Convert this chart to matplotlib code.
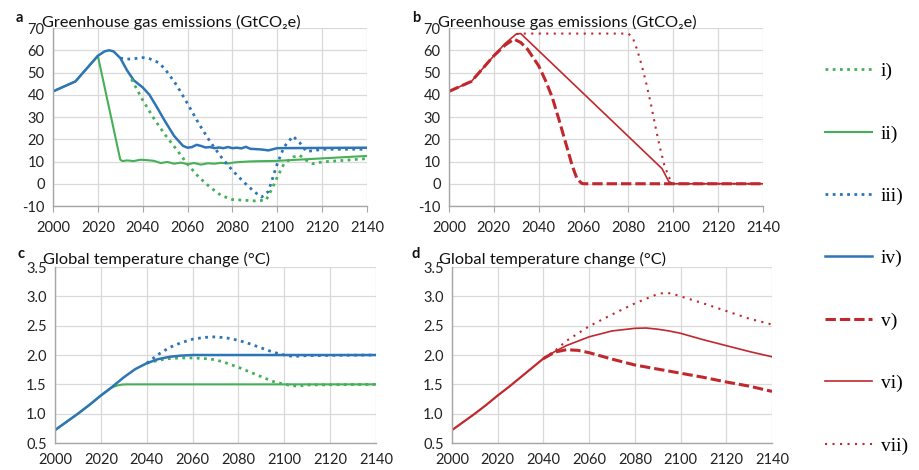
import matplotlib.pyplot as plt
from matplotlib.ticker import FormatStrFormatter

plt.rcParams["font.family"] = ["Lato", "DejaVu Sans"]

GREEN = "#45B058"
BLUE = "#2E75B6"
RED = "#C0282D"

# ---- panel a: emissions, green / blue scenarios
a_i_x = [2035, 2040, 2045, 2050, 2055, 2060, 2065, 2070, 2075, 2080, 2085, 2090,
         2095, 2098, 2100, 2103, 2107, 2110, 2113, 2116, 2120, 2140]
a_i_y = [47, 37.6, 29.3, 22, 15.5, 8.8, 3, -1.5, -5.3, -7.1, -7.4, -7.7,
         -7.4, -1.5, 3, 9, 12, 12.8, 10.5, 9, 9.8, 11.3]
a_ii_x = [2000, 2010, 2020, 2030, 2031, 2033, 2036, 2039, 2042, 2045, 2048, 2051,
          2054, 2057, 2060, 2063, 2066, 2069, 2072, 2075, 2078, 2081, 2084, 2087,
          2090, 2100, 2140]
a_ii_y = [41.5, 46, 57.5, 10.8, 10.2, 10.5, 10.2, 10.8, 10.6, 10.3, 9.3, 9.8,
          9.0, 9.5, 8.8, 9.3, 8.6, 9.2, 9.0, 9.4, 9.1, 9.6, 9.8, 10.0,
          10.1, 10.3, 12.5]
a_iii_x = [2030, 2033, 2036, 2040, 2043, 2047, 2050, 2055, 2060, 2065, 2070, 2075,
           2080, 2085, 2090, 2093, 2096, 2100, 2103, 2107, 2110, 2113, 2117, 2120, 2140]
a_iii_y = [56.5, 56, 56.2, 56.7, 56.2, 54.5, 51.5, 44.5, 36, 27, 19, 12,
           6, 0.8, -3.8, -6, -3.5, 9, 16.5, 21.4, 18.5, 14.5, 15, 15.5, 15.5]
a_iv_x = [2000, 2010, 2020, 2023, 2025, 2027, 2030, 2033, 2036, 2040, 2043, 2046,
          2050, 2054, 2058, 2060, 2062, 2064, 2066, 2068, 2070, 2072, 2074, 2076,
          2078, 2080, 2082, 2084, 2086, 2088, 2090, 2093, 2096, 2100, 2140]
a_iv_y = [41.5, 46, 57.5, 59.5, 60, 59.5, 56.5, 51, 46.5, 43.3, 40, 35,
          28, 21.5, 17, 16.2, 16.5, 17.5, 17.0, 16.3, 16.5, 16.0, 16.3, 16.0,
          16.5, 16.0, 16.2, 15.9, 16.6, 15.7, 15.6, 15.4, 15.0, 16.0, 16.2]

# ---- panel b: emissions, red scenarios
b_v_x = [2000, 2010, 2020, 2025, 2029, 2032, 2035, 2040, 2043, 2046, 2049, 2052,
         2055, 2057, 2059, 2060, 2140]
b_v_y = [41.5, 46, 57.5, 62.3, 65, 63.5, 60.5, 53, 46.5, 39, 29, 18.5,
         8, 2.5, 0.3, 0, 0]
b_vi_x = [2000, 2010, 2020, 2025, 2030, 2032, 2095, 2098, 2100, 2140]
b_vi_y = [41.5, 46, 57.5, 63, 67.3, 67.5, 6.8, 1.0, 0, 0]
b_vii_x = [2030, 2032, 2080, 2082, 2084, 2086, 2088, 2090, 2092, 2094, 2096, 2098,
           2100, 2140]
b_vii_y = [67.3, 67.5, 67.5, 65.5, 60, 53, 45, 36, 26, 16.5, 8.5, 3, 0, 0]

# ---- panel c: temperature, green / blue scenarios
c_i_x = [2040, 2045, 2050, 2055, 2060, 2065, 2070, 2075, 2080, 2085, 2090, 2095,
         2100, 2103, 2106, 2110, 2140]
c_i_y = [1.86, 1.91, 1.94, 1.95, 1.95, 1.94, 1.92, 1.86, 1.79, 1.71, 1.63, 1.55,
         1.50, 1.48, 1.47, 1.49, 1.50]
c_ii_x = [2000, 2005, 2010, 2015, 2020, 2025, 2027, 2029, 2031, 2140]
c_ii_y = [0.72, 0.86, 1.0, 1.15, 1.31, 1.45, 1.48, 1.495, 1.5, 1.5]
c_iii_x = [2040, 2045, 2050, 2055, 2060, 2065, 2070, 2075, 2080, 2085, 2090, 2095,
           2100, 2103, 2106, 2110, 2140]
c_iii_y = [1.86, 2.01, 2.13, 2.21, 2.27, 2.30, 2.31, 2.29, 2.25, 2.19, 2.12, 2.05,
           2.0, 1.98, 1.98, 1.99, 2.0]
c_iv_x = [2000, 2005, 2010, 2015, 2020, 2025, 2030, 2035, 2040, 2045, 2050, 2055,
          2060, 2140]
c_iv_y = [0.72, 0.86, 1.0, 1.15, 1.31, 1.46, 1.62, 1.76, 1.86, 1.93, 1.97, 1.99,
          2.0, 2.0]

# ---- panel d: temperature, red scenarios
d_trunk_x = [2000, 2005, 2010, 2015, 2020, 2025, 2030, 2035, 2040]
d_trunk_y = [0.72, 0.86, 1.0, 1.15, 1.31, 1.46, 1.62, 1.78, 1.94]
d_v_x = [2040, 2045, 2050, 2055, 2060, 2070, 2080, 2090, 2100, 2110, 2120, 2130, 2140]
d_v_y = [1.94, 2.05, 2.09, 2.08, 2.04, 1.93, 1.83, 1.76, 1.69, 1.62, 1.54, 1.47, 1.38]
d_vi_x = [2040, 2045, 2050, 2060, 2070, 2080, 2085, 2090, 2095, 2100, 2110, 2120,
          2130, 2140]
d_vi_y = [1.94, 2.06, 2.16, 2.31, 2.41, 2.455, 2.46, 2.44, 2.41, 2.37, 2.26, 2.16,
          2.06, 1.97]
d_vii_x = [2040, 2045, 2050, 2060, 2070, 2080, 2090, 2093, 2096, 2100, 2110, 2120,
           2130, 2140]
d_vii_y = [1.94, 2.07, 2.24, 2.49, 2.69, 2.88, 3.04, 3.06, 3.05, 3.0, 2.88, 2.75,
           2.62, 2.52]

labels = ["i)", "ii)", "iii)", "iv)", "v)", "vi)", "vii)"]
years = list(range(2000, 2141, 20))

# line styles per scenario
st_i = dict(color=GREEN, lw=2.0, ls=(0, (1, 1.6)))
st_ii = dict(color=GREEN, lw=1.5, ls="-")
st_iii = dict(color=BLUE, lw=2.0, ls=(0, (1, 1.6)))
st_iv = dict(color=BLUE, lw=1.8, ls="-")
st_v = dict(color=RED, lw=2.2, ls=(0, (3.4, 1.3)))
st_vi = dict(color=RED, lw=1.2, ls="-")
st_vii = dict(color=RED, lw=1.5, ls=(0, (1, 2.6)))


def style_axes(ax, ylim, yticks, fmt, xticks_marks):
    ax.set_xlim(2000, 2140)
    ax.set_ylim(*ylim)
    ax.set_xticks(years)
    ax.set_yticks(yticks)
    ax.yaxis.set_major_formatter(FormatStrFormatter(fmt))
    ax.grid(True, color="#d9d9d9", lw=0.9)
    ax.set_axisbelow(True)
    for s in ["top", "right"]:
        ax.spines[s].set_visible(False)
    for s in ["left", "bottom"]:
        ax.spines[s].set_color("#a6a6a6")
        ax.spines[s].set_linewidth(1.0)
    ax.tick_params(axis="y", length=0, pad=6, labelsize=10.5, colors="#222222")
    ax.tick_params(axis="x", length=4 if xticks_marks else 0, color="#a6a6a6",
                   pad=7, labelsize=10.5, labelcolor="#222222")


fig = plt.figure(figsize=(9.2, 4.7), dpi=100)
ax_a = fig.add_axes([0.0576, 0.5617, 0.3413, 0.3787])
ax_b = fig.add_axes([0.488, 0.5617, 0.3413, 0.3787])
ax_c = fig.add_axes([0.0598, 0.0574, 0.349, 0.3745])
ax_d = fig.add_axes([0.4913, 0.0574, 0.3478, 0.3745])

# a
ax_a.plot(a_ii_x, a_ii_y, **st_ii)
ax_a.plot(a_iv_x, a_iv_y, **st_iv)
ax_a.plot(a_i_x, a_i_y, **st_i)
ax_a.plot(a_iii_x, a_iii_y, **st_iii)
style_axes(ax_a, (-10, 70), range(-10, 71, 10), "%d", True)

# b
ax_b.plot(b_vi_x, b_vi_y, **st_vi)
ax_b.plot(b_vii_x, b_vii_y, **st_vii)
ax_b.plot(b_v_x, b_v_y, **st_v)
style_axes(ax_b, (-10, 70), range(-10, 71, 10), "%d", True)

# c
ax_c.plot(c_i_x, c_i_y, **st_i)
ax_c.plot(c_iii_x, c_iii_y, **st_iii)
ax_c.plot(c_ii_x, c_ii_y, **st_ii)
ax_c.plot(c_iv_x, c_iv_y, **st_iv)
style_axes(ax_c, (0.5, 3.5), [0.5, 1.0, 1.5, 2.0, 2.5, 3.0, 3.5], "%.1f", False)

# d
ax_d.plot(d_trunk_x, d_trunk_y, color=RED, lw=1.6)
ax_d.plot(d_vi_x, d_vi_y, **st_vi)
ax_d.plot(d_vii_x, d_vii_y, **st_vii)
ax_d.plot(d_v_x, d_v_y, **st_v)
style_axes(ax_d, (0.5, 3.5), [0.5, 1.0, 1.5, 2.0, 2.5, 3.0, 3.5], "%.1f", False)

# titles and panel letters
title_kw = dict(fontsize=11.8, color="#111111", va="baseline", ha="left")
fig.text(42 / 920, 1 - 27 / 470, "Greenhouse gas emissions (GtCO\u2082e)", **title_kw)
fig.text(438 / 920, 1 - 27 / 470, "Greenhouse gas emissions (GtCO\u2082e)", **title_kw)
fig.text(43 / 920, 1 - 264 / 470, "Global temperature change (\u00b0C)", **title_kw)
fig.text(439 / 920, 1 - 264 / 470, "Global temperature change (\u00b0C)", **title_kw)
letter_kw = dict(fontsize=10.5, fontweight="bold", color="#111111", va="baseline", ha="left")
fig.text(16 / 920, 1 - 22 / 470, "a", **letter_kw)
fig.text(412 / 920, 1 - 22 / 470, "b", **letter_kw)
fig.text(17 / 920, 1 - 258 / 470, "c", **letter_kw)
fig.text(412 / 920, 1 - 258 / 470, "d", **letter_kw)

# legend on the right
handles = [plt.Line2D([], [], **s) for s in [st_i, st_ii, st_iii, st_iv, st_v, st_vi, st_vii]]
fig.legend(handles, labels, loc="center left", bbox_to_anchor=(0.878, 0.45),
           frameon=False, handlelength=2.4, handletextpad=0.45, labelspacing=2.3,
           prop={"family": "Liberation Serif", "size": 14})

plt.savefig("out.png", dpi=100)
